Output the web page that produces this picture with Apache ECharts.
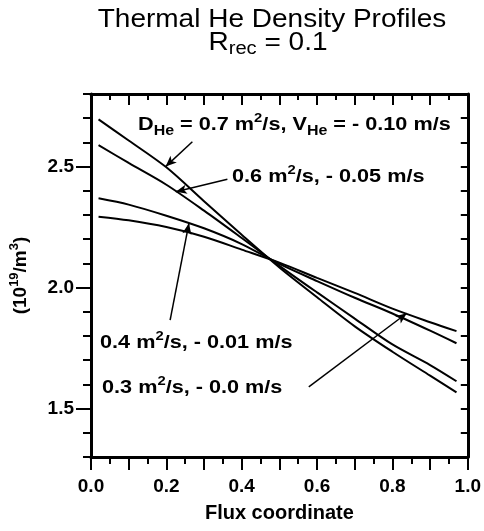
<!DOCTYPE html>
<html>
<head>
<meta charset="utf-8">
<script src="https://cdn.jsdelivr.net/npm/echarts@6/dist/echarts.min.js"></script>
<style>html,body{margin:0;padding:0;background:#fff;}#c{width:484px;height:531px;}</style>
</head>
<body>
<div id="c"></div>
<script>
// ---- data ----
const fluxCoord = [0.02, 0.1, 0.2, 0.3, 0.4, 0.5, 0.6, 0.7, 0.8, 0.9, 0.97];
const nD07 = [2.695, 2.608, 2.497, 2.357, 2.218, 2.083, 1.960, 1.840, 1.735, 1.636, 1.567];
const nD06 = [2.589, 2.515, 2.425, 2.318, 2.205, 2.090, 1.980, 1.872, 1.765, 1.680, 1.613];
const nD04 = [2.369, 2.343, 2.297, 2.245, 2.180, 2.098, 2.027, 1.958, 1.893, 1.822, 1.770];
const nD03 = [2.293, 2.278, 2.250, 2.210, 2.157, 2.103, 2.040, 1.978, 1.913, 1.857, 1.820];
const seriesNames = ['0.7 m2/s, -0.10 m/s', '0.6 m2/s, -0.05 m/s', '0.4 m2/s, -0.01 m/s', '0.3 m2/s, -0.0 m/s'];
const xTickLabels = [0, 0.2, 0.4, 0.6, 0.8, 1.0];
const yTickLabels = [1.5, 2.0, 2.5];
// arrows: [fromX, fromY, toX, toY] in data units
const arrow1 = [0.269, 2.603, 0.198, 2.500];
const arrow2 = [0.362, 2.448, 0.225, 2.396];
const arrow3 = [0.210, 1.866, 0.260, 2.266];
const arrow4 = [0.578, 1.590, 0.838, 1.894];

const FONT = '"Liberation Sans", Arial, Helvetica, sans-serif';
const chart = echarts.init(document.getElementById('c'), null, {renderer: 'canvas'});

function pairs(ys) { return fluxCoord.map((x, i) => [x, ys[i]]); }
function arrowLine(a) { return [{coord: [a[0], a[1]]}, {coord: [a[2], a[3]]}]; }

const blk = '#000';
const lineSeries = [nD07, nD06, nD04, nD03].map((ys, i) => ({
  type: 'line', name: seriesNames[i], data: pairs(ys), smooth: 0.3,
  showSymbol: false, symbol: 'none', lineStyle: {color: blk, width: 2}, itemStyle: {color: blk},
  silent: true, z: 3
}));
lineSeries.push({
  type: 'line', name: 'arrows', data: [], silent: true,
  markLine: {
    silent: true, symbol: ['none', 'arrow'], symbolSize: [7, 11], precision: 4,
    lineStyle: {color: blk, width: 1.5, type: 'solid'},
    label: {show: false},
    emphasis: {disabled: true},
    data: [arrowLine(arrow1), arrowLine(arrow2), arrowLine(arrow3), arrowLine(arrow4)]
  }
});

function xLabel(v) {
  const r = Math.round(v * 10);
  return xTickLabels.some(t => Math.round(t * 10) === r) ? (r / 10).toFixed(1) : '';
}
function yLabel(v) {
  const r = Math.round(v * 10);
  return yTickLabels.some(t => Math.round(t * 10) === r) ? (r / 10).toFixed(1) : '';
}

const axisLine = {show: true, onZero: false, lineStyle: {color: blk, width: 3}};
const tickStyle = {color: blk, width: 2};
const labelStyle = {color: blk, fontSize: 19, fontWeight: 'bold', fontFamily: FONT};

const ann = (x, y, text) => ({
  type: 'text', x: x, y: y, scaleX: 1.14, originX: 0, silent: true,
  style: {
    text: text, align: 'left', verticalAlign: 'middle', fill: blk,
    rich: {
      b: {fontSize: 19, fontWeight: 'bold', fontFamily: FONT, lineHeight: 26, fill: blk},
      s: {fontSize: 14, fontWeight: 'bold', fontFamily: FONT, lineHeight: 10, verticalAlign: 'bottom', fill: blk},
      p: {fontSize: 13, fontWeight: 'bold', fontFamily: FONT, lineHeight: 20, verticalAlign: 'top', fill: blk}
    }
  }
});

chart.setOption({
  animation: false,
  backgroundColor: '#fff',
  grid: {left: 89, right: 16, top: 94, bottom: 74, containLabel: false},
  xAxis: [
    {type: 'value', position: 'bottom', min: 0, max: 1, interval: 0.1,
     axisLine: axisLine,
     axisTick: {show: true, inside: false, length: 13, lineStyle: tickStyle},
     minorTick: {show: true, splitNumber: 2, length: 7, lineStyle: tickStyle},
     splitLine: {show: false}, minorSplitLine: {show: false},
     axisLabel: Object.assign({formatter: xLabel, margin: 20, showMinLabel: true, showMaxLabel: true}, labelStyle),
     name: 'Flux coordinate', nameLocation: 'middle', nameGap: 46,
     nameTextStyle: {color: blk, fontSize: 20, fontWeight: 'bold', fontFamily: FONT}},
    {type: 'value', position: 'top', min: 0, max: 1, interval: 0.1,
     axisLine: axisLine,
     axisTick: {show: true, inside: true, length: 11, lineStyle: tickStyle},
     minorTick: {show: true, splitNumber: 2, length: 6, lineStyle: tickStyle},
     splitLine: {show: false}, axisLabel: {show: false}}
  ],
  yAxis: [
    {type: 'value', position: 'left', min: 1.3, max: 2.8, interval: 0.1,
     axisLine: axisLine,
     axisTick: {show: true, inside: false, length: 8, lineStyle: tickStyle},
     splitLine: {show: false},
     axisLabel: Object.assign({formatter: yLabel, margin: 17}, labelStyle),
     name: '{a|(10}{p|19}{a|/m}{p|3}{a|)}', nameLocation: 'middle', nameGap: 57,
     nameTextStyle: {color: blk, rich: {
       a: {fontSize: 19, fontWeight: 'bold', fontFamily: FONT, lineHeight: 26, fill: blk},
       p: {fontSize: 13, fontWeight: 'bold', fontFamily: FONT, lineHeight: 20, verticalAlign: 'top', fill: blk}
     }}},
    {type: 'value', position: 'left', min: 1.3, max: 2.8, interval: 0.1,
     axisLine: {show: false},
     axisTick: {show: true, inside: false, length: 15, lineStyle: tickStyle, customValues: yTickLabels},
     splitLine: {show: false}, axisLabel: {show: false}},
    {type: 'value', position: 'right', min: 1.3, max: 2.8, interval: 0.1,
     axisLine: axisLine,
     axisTick: {show: true, inside: true, length: 7, lineStyle: tickStyle},
     splitLine: {show: false}, axisLabel: {show: false}},
    {type: 'value', position: 'right', min: 1.3, max: 2.8, interval: 0.1,
     axisLine: {show: false},
     axisTick: {show: true, inside: true, length: 13, lineStyle: tickStyle, customValues: yTickLabels},
     splitLine: {show: false}, axisLabel: {show: false}}
  ],
  series: lineSeries,
  graphic: [
    {type: 'text', x: 272, y: 20, scaleX: 1.12, silent: true,
     style: {text: 'Thermal He Density Profiles', align: 'center', verticalAlign: 'middle',
             fontSize: 25, fontFamily: FONT, fill: blk}},
    {type: 'text', x: 268, y: 43, scaleX: 1.12, silent: true,
     style: {text: '{t|R}{s|rec}{t| = 0.1}', align: 'center', verticalAlign: 'middle', fill: blk,
             rich: {t: {fontSize: 25, fontFamily: FONT, lineHeight: 30, fill: blk},
                    s: {fontSize: 18, fontFamily: FONT, lineHeight: 14, verticalAlign: 'bottom', fill: blk}}}},
    ann(138, 125, '{b|D}{s|He}{b| = 0.7 m}{p|2}{b|/s, V}{s|He}{b| = - 0.10 m/s}'),
    ann(232, 177, '{b|0.6 m}{p|2}{b|/s, - 0.05 m/s}'),
    ann(100, 343, '{b|0.4 m}{p|2}{b|/s, - 0.01 m/s}'),
    ann(102, 388, '{b|0.3 m}{p|2}{b|/s, - 0.0 m/s}')
  ]
});
</script>
</body>
</html>
